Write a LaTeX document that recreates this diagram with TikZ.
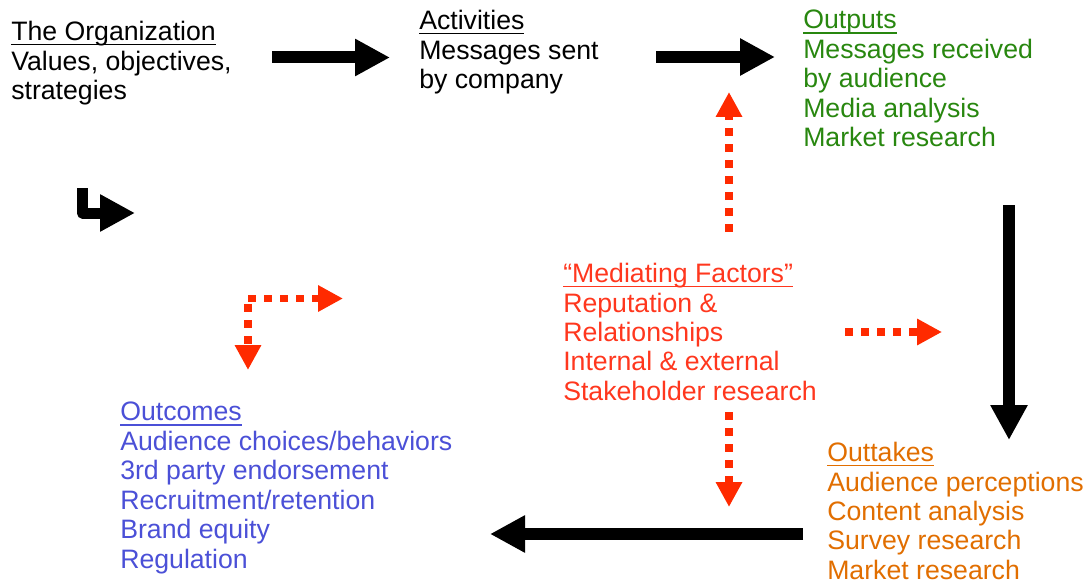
\documentclass[tikz,border=0pt]{standalone}
\usepackage{fontspec}
\setmainfont{Liberation Sans}
\usetikzlibrary{arrows.meta}
\definecolor{outgreen}{RGB}{40,135,15}
\definecolor{medred}{RGB}{255,55,30}
\definecolor{arrred}{RGB}{255,42,0}
\definecolor{outcblue}{RGB}{75,80,215}
\definecolor{outtorange}{RGB}{225,110,0}
\newcommand{\hdline}[1]{\setbox0\hbox{#1}\rlap{\rule[-3.6pt]{\wd0}{1.3pt}}\box0}

\begin{document}
\begin{tikzpicture}[x=0.75pt, y=-0.75pt,
        blk/.style={anchor=north west, inner sep=0pt, align=left,
                    font=\fontsize{20pt}{22.1pt}\selectfont, text=#1},
        blk/.default=black,
        bigarr/.style={line width=9pt, -{Triangle[length=26.25pt, width=26.25pt]}},
        dotarr/.style={line width=5.6pt, draw=arrred, dash pattern=on 6pt off 6pt,
                       -{Triangle[length=18.75pt, width=18.75pt]}}
      ]
        \useasboundingbox (0,0) rectangle (1087,581);
        % Text blocks
        \node[blk] (org) at (11,21) {\hdline{The Organization}\\Values, objectives,\\strategies};
        \node[blk] (act) at (419,10) {\hdline{Activities}\\Messages sent\\by company};
        \node[blk=outgreen] (outp) at (803,10)
          {\hdline{Outputs}\\Messages received\\by audience\\Media analysis\\Market research};
        \node[blk=medred] (med) at (563,263)
          {\hdline{“Mediating Factors”}\\Reputation \&\\Relationships\\Internal \& external\\Stakeholder research};
        \node[blk=outcblue] (outc) at (120,402)
          {\hdline{Outcomes}\\Audience choices/behaviors\\3rd party endorsement\\Recruitment/retention\\Brand equity\\Regulation};
        \node[blk=outtorange] (outt) at (827,442)
          {\hdline{Outtakes}\\Audience perceptions\\Content analysis\\Survey research\\Market research};
        % Arrow ends
        \coordinate (a1s) at (272,57.5);  \coordinate (a1e) at (390,57.5);
        \coordinate (a2s) at (656,57);    \coordinate (a2e) at (775,57);
        \coordinate (a3s) at (1009,205);  \coordinate (a3e) at (1009,440);
        \coordinate (a4s) at (803,534);   \coordinate (a4e) at (490,534);
        \coordinate (bs) at (82.5,188);   \coordinate (bc) at (82.5,213);
        \coordinate (be) at (135,213);
        \coordinate (dc) at (248,298.5);  \coordinate (dv) at (248,304);
        \coordinate (dr) at (343,298.5);  \coordinate (dd) at (248,370);
        \coordinate (us) at (729,232);    \coordinate (ue) at (729,92);
        \coordinate (rs) at (845,332);    \coordinate (re) at (942,332);
        \coordinate (ds) at (729,412);    \coordinate (de) at (729,507);
        % Main flow
        \draw[bigarr] (a1s) -- (a1e);
        \draw[bigarr] (a2s) -- (a2e);
        \draw[bigarr] (a3s) -- (a3e);
        \draw[bigarr] (a4s) -- (a4e);
        \draw[bigarr, line width=8.25pt, line join=round] (bs) -- (bc) -- (be);
        % Mediating arrows
        \draw[dotarr] (dc) -- (dr);
        \draw[dotarr] (dv) -- (dd);
        \draw[dotarr] (us) -- (ue);
        \draw[dotarr] (rs) -- (re);
        \draw[dotarr] (ds) -- (de);
      \end{tikzpicture}
\end{document}
